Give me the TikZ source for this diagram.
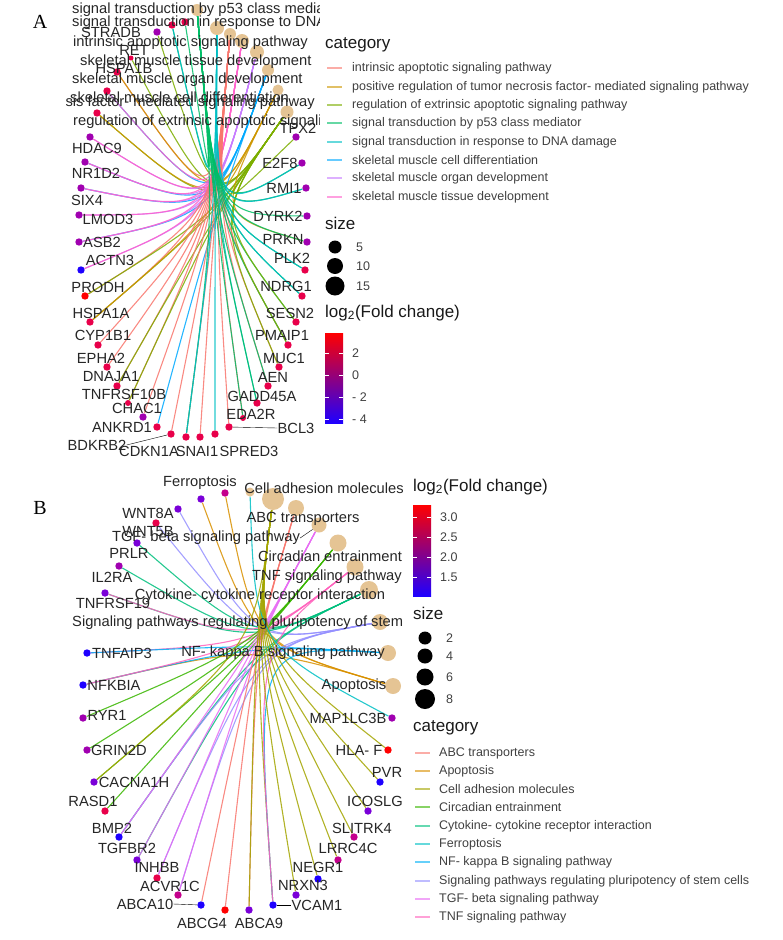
\documentclass[tikz,border=0pt]{standalone}
\usepackage{fontspec}
\setmainfont{Liberation Sans}
\newfontfamily\panelfont{Liberation Serif}
\pgfdeclarelayer{edges}
\pgfsetlayers{edges,main}
\definecolor{catfill}{HTML}{E5C494}
\definecolor{fcA}{HTML}{FF0000}
\definecolor{fcB}{HTML}{E8004A}
\definecolor{fcM}{HTML}{C4008C}
\definecolor{fcC}{HTML}{A000B0}
\definecolor{fcD}{HTML}{7A00D8}
\definecolor{fcE}{HTML}{1E00FF}
% categorie pannello A
\definecolor{intr}{HTML}{F8766D}
\definecolor{tnfp}{HTML}{CD9600}
\definecolor{extr}{HTML}{7CAE00}
\definecolor{ptf}{HTML}{00BE67}
\definecolor{dna}{HTML}{00BFC4}
\definecolor{cdiff}{HTML}{00A9FF}
\definecolor{organ}{HTML}{C77CFF}
\definecolor{tissue}{HTML}{FF61CC}
% categorie pannello B
\definecolor{abc}{HTML}{F8766D}
\definecolor{apop}{HTML}{D89000}
\definecolor{cam}{HTML}{A3A500}
\definecolor{circ}{HTML}{39B600}
\definecolor{cyto}{HTML}{00BF7D}
\definecolor{ferro}{HTML}{00BFC4}
\definecolor{nfkb}{HTML}{00B0F6}
\definecolor{pluri}{HTML}{9590FF}
\definecolor{tgfb}{HTML}{E76BF3}
\definecolor{tnf}{HTML}{FF62BC}
\begin{document}
\begin{tikzpicture}[x=1pt,y=-1pt,
	gene/.style = {circle,inner sep=0pt,minimum size=7.4pt},
	cat/.style = {circle,fill=catfill,inner sep=0pt},
	lab/.style = {inner sep=0pt,font=\fontsize{14.7}{15}\selectfont,text=black!85},
	edge/.style = {line width=1.1pt,draw opacity=0.85},
	leg/.style = {inner sep=0pt,anchor=west,font=\fontsize{12.5}{13}\selectfont,text=black!75},
	legtitle/.style = {inner sep=0pt,anchor=west,font=\fontsize{17}{18}\selectfont,text=black!90},
	swatch/.style = {line width=1.6pt,draw opacity=0.6}
	]
	\useasboundingbox (0,0) rectangle (782,940);
	\node[font=\panelfont\fontsize{20}{20}\selectfont] (pA) at (40,22) {A};
	\node[font=\panelfont\fontsize{20}{20}\selectfont] (pB) at (40,508) {B};
	%CATEGORIE A
	\node[cat,minimum size=12] (ptf) at (197,10) {};
	\node[cat,minimum size=14] (dna) at (217,28) {};
	\node[cat,minimum size=12] (intr) at (230,34) {};
	\node[cat,minimum size=14] (tissue) at (242,41) {};
	\node[cat,minimum size=14] (organ) at (257,52) {};
	\node[cat,minimum size=12] (cdiff) at (268,70) {};
	\node[cat,minimum size=11] (tnfp) at (278,90) {};
	\node[cat,minimum size=13] (extr) at (287,112) {};
	\coordinate (hubA) at (215,215);
	%GENI A
	\node[gene,fill=fcC] (STRADB) at (157,32) {};
	\node[gene,fill=fcB] (hidA) at (172,25) {};
	\node[gene,fill=fcB] (hidB) at (185,22) {};
	\node[gene,fill=fcB,minimum size=5] (RET) at (131,58) {};
	\node[gene,fill=fcB] (HSPA1B) at (117,72) {};
	\node[gene,fill=fcB] (hidC) at (107,91) {};
	\node[gene,fill=fcB] (hidD) at (97,113) {};
	\node[gene,fill=fcC] (HDAC9) at (90,137) {};
	\node[gene,fill=fcC] (NR1D2) at (85,162) {};
	\node[gene,fill=fcC] (SIX4) at (81,188) {};
	\node[gene,fill=fcC] (LMOD3) at (79,215) {};
	\node[gene,fill=fcC] (ASB2) at (79,242) {};
	\node[gene,fill=fcE] (ACTN3) at (81,270) {};
	\node[gene,fill=fcA] (PRODH) at (85,296) {};
	\node[gene,fill=fcB] (HSPA1A) at (90,322) {};
	\node[gene,fill=fcB] (CYP1B1) at (98,345) {};
	\node[gene,fill=fcB] (EPHA2) at (107,367) {};
	\node[gene,fill=fcB] (DNAJA1) at (117,386) {};
	\node[gene,fill=fcB,minimum size=6] (TNFRSF10B) at (128,403) {};
	\node[gene,fill=fcC] (CHAC1) at (143,417) {};
	\node[gene,fill=fcB] (ANKRD1) at (157,427) {};
	\node[gene,fill=fcB] (BDKRB2) at (171,434) {};
	\node[gene,fill=fcB] (CDKN1A) at (186,437) {};
	\node[gene,fill=fcB] (SNAI1) at (200,437) {};
	\node[gene,fill=fcB] (SPRED3) at (215,434) {};
	\node[gene,fill=fcB] (BCL3) at (229,427) {};
	\node[gene,fill=fcB,minimum size=6] (EDA2R) at (243,418) {};
	\node[gene,fill=fcB] (GADD45A) at (257,403) {};
	\node[gene,fill=fcB] (AEN) at (268,386) {};
	\node[gene,fill=fcB] (MUC1) at (279,367) {};
	\node[gene,fill=fcB] (PMAIP1) at (288,345) {};
	\node[gene,fill=fcB] (SESN2) at (296,322) {};
	\node[gene,fill=fcB] (NDRG1) at (302,296) {};
	\node[gene,fill=fcB] (PLK2) at (305,270) {};
	\node[gene,fill=fcC] (PRKN) at (307,242) {};
	\node[gene,fill=fcC] (DYRK2) at (307,216) {};
	\node[gene,fill=fcC] (RMI1) at (306,188) {};
	\node[gene,fill=fcC] (E2F8) at (302,163) {};
	\node[gene,fill=fcC] (TPX2) at (296,137) {};
	%ARCHI A
	\begin{pgfonlayer}{edges}
	\foreach \c/\g in {extr/STRADB,ptf/hidA,dna/hidA,ptf/hidB,extr/RET,intr/HSPA1B,tnfp/HSPA1B,
		cdiff/hidC,tissue/hidC,extr/hidD,tnfp/hidD,organ/HDAC9,tissue/HDAC9,cdiff/NR1D2,organ/NR1D2,tissue/NR1D2,
		cdiff/SIX4,organ/SIX4,tissue/SIX4,organ/LMOD3,tissue/LMOD3,cdiff/ASB2,organ/ASB2,tissue/ASB2,
		organ/ACTN3,tissue/ACTN3,intr/PRODH,extr/PRODH,intr/HSPA1A,extr/HSPA1A,tnfp/HSPA1A,intr/CYP1B1,
		intr/EPHA2,intr/DNAJA1,extr/DNAJA1,intr/TNFRSF10B,extr/TNFRSF10B,intr/CHAC1,cdiff/ANKRD1,
		intr/BDKRB2,intr/CDKN1A,ptf/CDKN1A,dna/CDKN1A,intr/SNAI1,dna/SPRED3,intr/BCL3,intr/EDA2R,ptf/EDA2R,
		dna/GADD45A,ptf/GADD45A,intr/AEN,ptf/AEN,intr/MUC1,extr/MUC1,intr/PMAIP1,ptf/PMAIP1,extr/PMAIP1,
		ptf/SESN2,extr/SESN2,ptf/NDRG1,dna/NDRG1,ptf/PLK2,dna/PLK2,tnfp/PRKN,ptf/PRKN,ptf/DYRK2,
		ptf/RMI1,dna/RMI1,ptf/E2F8,dna/E2F8,extr/TPX2}
		\draw[edge,\c] (\c) .. controls (hubA) .. (\g);
	\end{pgfonlayer}
	%ETICHETTE A
	\begin{scope}
	\clip (66,0) rectangle (319,470);
	\node[lab] (STRADBl) at (111,32) {STRADB};
	\node[lab] (RETl) at (134,50) {RET};
	\node[lab] (HSPA1Bl) at (124,68) {HSPA1B};
	\node[lab] (TPX2l) at (298,128) {TPX2};
	\node[lab,anchor=west] (ptfl) at (72,10) {signal transduction by p53 class mediator};
	\node[lab,anchor=west] (dnal) at (72,23) {signal transduction in response to DNA damage};
	\node[lab,anchor=west] (intrl) at (73,43) {intrinsic apoptotic signaling pathway};
	\node[lab,anchor=west] (tissuel) at (80,62) {skeletal muscle tissue development};
	\node[lab,anchor=west] (organl) at (72,80) {skeletal muscle organ development};
	\node[lab,anchor=west] (cdiffl) at (70,97) {skeletal muscle cell differentiation};
	\node[lab,anchor=east] (tnfpl) at (315,103) {positive regulation of tumor necrosis factor- mediated signaling pathway};
	\node[lab,anchor=west] (extrl) at (73,122) {regulation of extrinsic apoptotic signaling pathway};
	\node[lab] (HDAC9l) at (97,148) {HDAC9};
	\node[lab] (NR1D2l) at (96,173) {NR1D2};
	\node[lab] (SIX4l) at (87,200) {SIX4};
	\node[lab] (LMOD3l) at (108,219) {LMOD3};
	\node[lab] (ASB2l) at (102,242) {ASB2};
	\node[lab] (ACTN3l) at (110,260) {ACTN3};
	\node[lab] (PRODHl) at (98,287) {PRODH};
	\node[lab] (HSPA1Al) at (101,313) {HSPA1A};
	\node[lab] (CYP1B1l) at (103,335) {CYP1B1};
	\node[lab] (EPHA2l) at (101,358) {EPHA2};
	\node[lab] (DNAJA1l) at (111,377) {DNAJA1};
	\node[lab] (TNFRSF10Bl) at (124,394) {TNFRSF10B};
	\node[lab] (CHAC1l) at (137,408) {CHAC1};
	\node[lab] (ANKRD1l) at (122,427) {ANKRD1};
	\node[lab] (BDKRB2l) at (97,445) {BDKRB2};
	\node[lab] (CDKN1Al) at (149,451) {CDKN1A};
	\node[lab] (SNAI1l) at (197,451) {SNAI1};
	\node[lab] (SPRED3l) at (249,451) {SPRED3};
	\node[lab] (BCL3l) at (296,428) {BCL3};
	\node[lab] (EDA2Rl) at (251,414) {EDA2R};
	\node[lab] (GADD45Al) at (262,396) {GADD45A};
	\node[lab] (AENl) at (273,377) {AEN};
	\node[lab] (MUC1l) at (284,358) {MUC1};
	\node[lab] (PMAIP1l) at (282,335) {PMAIP1};
	\node[lab] (SESN2l) at (290,313) {SESN2};
	\node[lab] (NDRG1l) at (286,286) {NDRG1};
	\node[lab] (PLK2l) at (292,258) {PLK2};
	\node[lab] (PRKNl) at (283,239) {PRKN};
	\node[lab] (DYRK2l) at (278,216) {DYRK2};
	\node[lab] (RMI1l) at (284,188) {RMI1};
	\node[lab] (E2F8l) at (280,163) {E2F8};
	\end{scope}
	\draw (BDKRB2) -- (BDKRB2l.east);
	\draw (BCL3) -- (BCL3l.west);
	%LEGENDA A
	\node[legtitle] (catA) at (325,45) {category};
	\foreach \c/\t/\y in {intr/intrinsic apoptotic signaling pathway/68,
		tnfp/positive regulation of tumor necrosis factor- mediated signaling pathway/87,
		extr/regulation of extrinsic apoptotic signaling pathway/105,
		ptf/signal transduction by p53 class mediator/123,
		dna/signal transduction in response to DNA damage/142,
		cdiff/skeletal muscle cell differentiation/160,
		organ/skeletal muscle organ development/178,
		tissue/skeletal muscle tissue development/197}
	{
		\draw[swatch,draw=\c] (327,\y) -- (342,\y);
		\node[leg] (legA\c) at (352,\y) {\t};
	}
	\node[legtitle] (sizeA) at (325,223) {size};
	\foreach \d/\n/\y in {13/5/247,16/10/266,19/15/286}
	{
		\node[circle,fill=black,inner sep=0pt,minimum size=\d] (szA\n) at (335,\y) {};
		\node[leg] at (356,\y) {\n};
	}
	\node[legtitle] (fcA) at (325,313) {log\textsubscript{2}(Fold change)};
	\shade[top color=fcA,bottom color=fcE] (325,333) rectangle (343,423);
	\foreach \t/\y in {2/353,0/375,- 2/397,- 4/419}
	{
		\draw[white,line width=0.5pt] (325,\y) -- (329,\y) (339,\y) -- (343,\y);
		\node[leg] at (352,\y) {\t};
	}
	%CATEGORIE B
	\node[cat,minimum size=9] (ferro) at (250,492) {};
	\node[cat,minimum size=22] (cam) at (273,499) {};
	\node[cat,minimum size=16] (abc) at (296,508) {};
	\node[cat,minimum size=15] (tgfb) at (319,525) {};
	\node[cat,minimum size=17] (circ) at (338,543) {};
	\node[cat,minimum size=17] (tnf) at (355,567) {};
	\node[cat,minimum size=18] (cyto) at (369,590) {};
	\node[cat,minimum size=16] (pluri) at (380,622) {};
	\node[cat,minimum size=16] (nfkb) at (388,653) {};
	\node[cat,minimum size=16] (apop) at (393,686) {};
	\coordinate (hubB) at (255,645);
	%GENI B
	\node[gene,fill=fcD] (gB1) at (201,499) {};
	\node[gene,fill=fcM] (gB2) at (225,493) {};
	\node[gene,fill=fcD] (WNT8A) at (178,509) {};
	\node[gene,fill=fcB] (WNT5B) at (156,523) {};
	\node[gene,fill=fcD] (PRLR) at (137,543) {};
	\node[gene,fill=fcC] (IL2RA) at (119,566) {};
	\node[gene,fill=fcD] (TNFRSF19) at (105,593) {};
	\node[gene,fill=fcE] (TNFAIP3) at (87,653) {};
	\node[gene,fill=fcE] (NFKBIA) at (83,685) {};
	\node[gene,fill=fcC] (RYR1) at (83,718) {};
	\node[gene,fill=fcC] (GRIN2D) at (87,750) {};
	\node[gene,fill=fcD] (CACNA1H) at (94,782) {};
	\node[gene,fill=fcB] (RASD1) at (105,811) {};
	\node[gene,fill=fcE] (BMP2) at (119,837) {};
	\node[gene,fill=fcD] (TGFBR2) at (137,860) {};
	\node[gene,fill=fcB] (INHBB) at (157,878) {};
	\node[gene,fill=fcM] (ACVR1C) at (178,895) {};
	\node[gene,fill=fcE] (ABCA10) at (201,905) {};
	\node[gene,fill=fcA] (ABCG4) at (225,910) {};
	\node[gene,fill=fcD] (ABCA9) at (249,910) {};
	\node[gene,fill=fcE] (VCAM1) at (273,905) {};
	\node[gene,fill=fcD] (NRXN3) at (296,895) {};
	\node[gene,fill=fcE] (NEGR1) at (318,879) {};
	\node[gene,fill=fcM] (LRRC4C) at (338,860) {};
	\node[gene,fill=fcM] (SLITRK4) at (354,837) {};
	\node[gene,fill=fcD] (ICOSLG) at (368,811) {};
	\node[gene,fill=fcE] (PVR) at (380,782) {};
	\node[gene,fill=fcA] (HLAF) at (388,750) {};
	\node[gene,fill=fcC] (MAP1LC3B) at (392,718) {};
	%ARCHI B
	\begin{pgfonlayer}{edges}
	\foreach \c/\g in {apop/gB1,apop/gB2,pluri/WNT8A,pluri/WNT5B,cyto/PRLR,cyto/IL2RA,cyto/TNFRSF19,
		tnf/TNFRSF19,tnf/TNFAIP3,nfkb/TNFAIP3,apop/NFKBIA,nfkb/NFKBIA,tnf/NFKBIA,circ/RYR1,circ/GRIN2D,
		circ/CACNA1H,circ/RASD1,cyto/BMP2,pluri/BMP2,tgfb/BMP2,cyto/TGFBR2,tgfb/TGFBR2,pluri/INHBB,
		tgfb/INHBB,pluri/ACVR1C,tgfb/ACVR1C,abc/ABCA10,abc/ABCG4,abc/ABCA9,cam/VCAM1,nfkb/VCAM1,
		tnf/VCAM1,cam/NRXN3,cam/NEGR1,cam/LRRC4C,cam/SLITRK4,cam/ICOSLG,cam/PVR,cam/HLAF,
		ferro/MAP1LC3B,cam/ABCA9,cam/CACNA1H}
		\draw[edge,\c] (\c) .. controls (hubB) .. (\g);
	\end{pgfonlayer}
	%ETICHETTE B
	\begin{scope}
	\clip (66,470) rectangle (405,940);
	\node[lab] (WNT5Bl) at (148,532) {WNT5B};
	\node[lab] (ferrol) at (200,483) {Ferroptosis};
	\node[lab] (caml) at (324,488) {Cell adhesion molecules};
	\node[lab] (WNT8Al) at (148,513) {WNT8A};
	\node[lab] (abcl) at (303,519) {ABC transporters};
	\node[lab] (tgfbl) at (206,538) {TGF- beta signaling pathway};
	\node[lab] (PRLRl) at (129,553) {PRLR};
	\node[lab] (circl) at (330,556) {Circadian entrainment};
	\node[lab] (IL2RAl) at (112,577) {IL2RA};
	\node[lab] (tnfl) at (327,577) {TNF signaling pathway};
	\node[lab] (TNFRSF19l) at (113,603) {TNFRSF19};
	\node[lab] (cytol) at (260,596) {Cytokine- cytokine receptor interaction};
	\node[lab,anchor=west] (pluril) at (72,623) {Signaling pathways regulating pluripotency of stem cells};
	\node[lab] (nfkbl) at (283,653) {NF- kappa B signaling pathway};
	\node[lab] (apopl) at (354,686) {Apoptosis};
	\node[lab] (TNFAIP3l) at (122,653) {TNFAIP3};
	\node[lab] (NFKBIAl) at (114,685) {NFKBIA};
	\node[lab] (RYR1l) at (107,715) {RYR1};
	\node[lab] (GRIN2Dl) at (119,750) {GRIN2D};
	\node[lab] (CACNA1Hl) at (134,782) {CACNA1H};
	\node[lab] (MAP1LC3Bl) at (348,718) {MAP1LC3B};
	\node[lab] (HLAFl) at (359,750) {HLA- F};
	\node[lab] (PVRl) at (387,772) {PVR};
	\node[lab] (RASD1l) at (93,801) {RASD1};
	\node[lab] (BMP2l) at (112,828) {BMP2};
	\node[lab] (TGFBR2l) at (127,848) {TGFBR2};
	\node[lab] (INHBBl) at (157,867) {INHBB};
	\node[lab] (ACVR1Cl) at (170,886) {ACVR1C};
	\node[lab] (ABCA10l) at (145,904) {ABCA10};
	\node[lab] (ABCG4l) at (202,923) {ABCG4};
	\node[lab] (ABCA9l) at (259,923) {ABCA9};
	\node[lab] (VCAM1l) at (317,905) {VCAM1};
	\node[lab] (NRXN3l) at (303,885) {NRXN3};
	\node[lab] (NEGR1l) at (318,867) {NEGR1};
	\node[lab] (LRRC4Cl) at (348,848) {LRRC4C};
	\node[lab] (SLITRK4l) at (362,828) {SLITRK4};
	\node[lab] (ICOSLGl) at (375,801) {ICOSLG};
	\end{scope}
	\draw (tgfb) -- (tgfbl.east);
	\draw (ABCA10) -- (ABCA10l.east);
	\draw (VCAM1) -- (VCAM1l.west);
	%LEGENDA B
	\node[legtitle] (fcB) at (413,487) {log\textsubscript{2}(Fold change)};
	\shade[top color=fcA,bottom color=fcE] (413,505) rectangle (431,596);
	\foreach \t/\y in {3.0/517,2.5/537,2.0/557,1.5/577}
	{
		\draw[white,line width=0.5pt] (413,\y) -- (417,\y) (427,\y) -- (431,\y);
		\node[leg] at (440,\y) {\t};
	}
	\node[legtitle] (sizeB) at (413,613) {size};
	\foreach \d/\n/\y in {13/2/638,15/4/656,17/6/677,20/8/699}
	{
		\node[circle,fill=black,inner sep=0pt,minimum size=\d] (szB\n) at (425,\y) {};
		\node[leg] at (446,\y) {\n};
	}
	\node[legtitle] (catB) at (413,728) {category};
	\foreach \c/\t/\y in {abc/ABC transporters/753,apop/Apoptosis/771,cam/Cell adhesion molecules/789,
		circ/Circadian entrainment/807,cyto/Cytokine- cytokine receptor interaction/826,
		ferro/Ferroptosis/844,nfkb/NF- kappa B signaling pathway/862,
		pluri/Signaling pathways regulating pluripotency of stem cells/881,
		tgfb/TGF- beta signaling pathway/899,tnf/TNF signaling pathway/917}
	{
		\draw[swatch,draw=\c] (415,\y) -- (430,\y);
		\node[leg] (legB\c) at (439,\y) {\t};
	}
\end{tikzpicture}
\end{document}
